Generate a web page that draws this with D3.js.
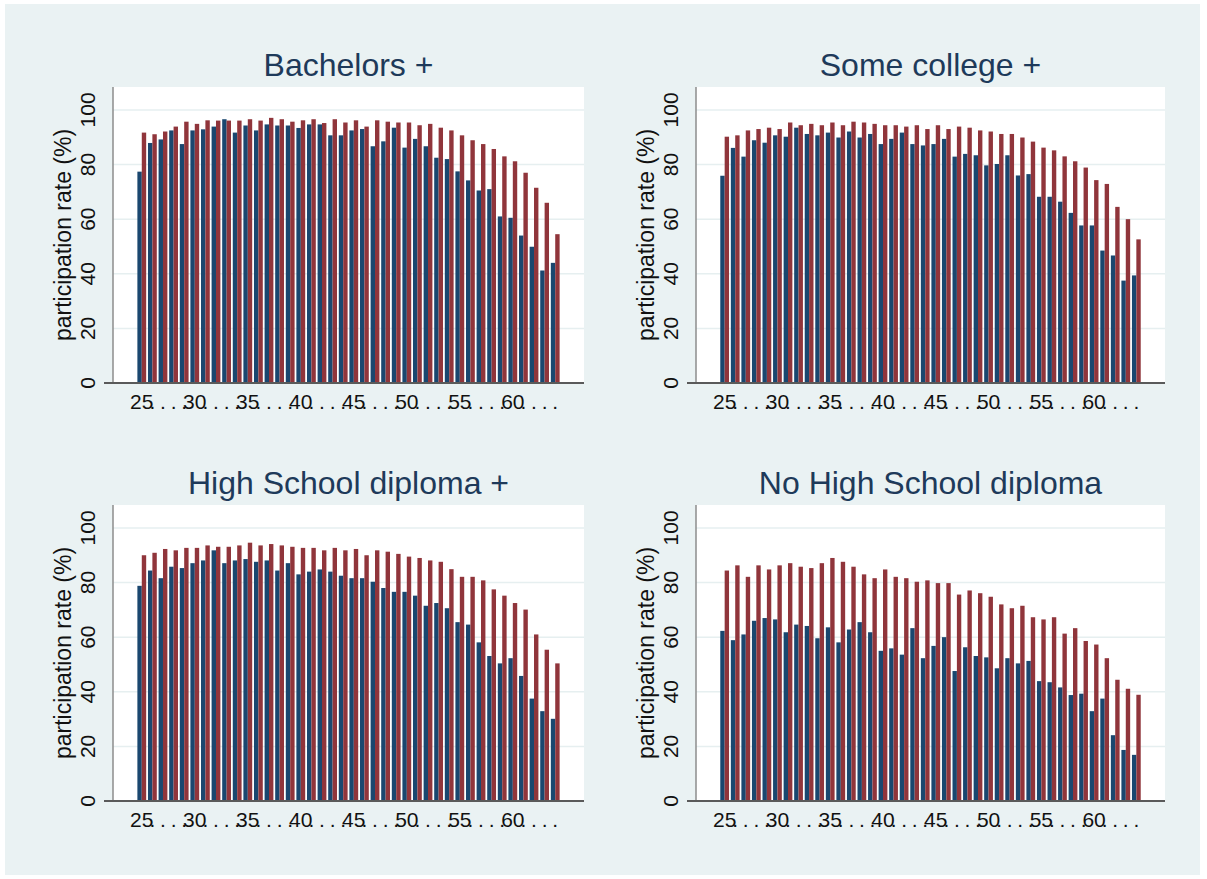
<!DOCTYPE html>
<html>
<head>
<meta charset="utf-8">
<script src="https://cdn.jsdelivr.net/npm/d3@7"></script>
<style>
  body { margin: 0; background: #fff; }
  text { font-family: "Liberation Sans", Arial, Helvetica, sans-serif; }
</style>
</head>
<body>
<div id="chart-area"></div>
<script>
const ages = d3.range(25, 65);
const yTicks = [0, 20, 40, 60, 80, 100];
const titles = ["Bachelors +", "Some college +", "High School diploma +", "No High School diploma"];

// navy series and maroon series, one value per age 25..64
const bachNavy = [77.4, 87.9, 89.2, 92.5, 87.5, 92.5, 92.9, 93.9, 96.6, 91.7,
  94.3, 92.5, 94.7, 94.3, 94.3, 93.4, 94.7, 94.7, 90.7, 90.7,
  92.5, 93.0, 86.7, 88.5, 93.5, 86.2, 89.4, 86.7, 82.5, 82.0,
  77.5, 74.2, 70.5, 71.0, 61.0, 60.5, 54.0, 49.9, 41.2, 44.0];
const bachRed = [91.7, 91.1, 92.1, 93.9, 95.7, 94.9, 96.2, 96.1, 96.1, 96.1,
  96.6, 96.1, 97.1, 96.6, 95.7, 96.2, 96.6, 95.2, 96.6, 95.4,
  96.2, 93.9, 96.2, 95.7, 95.4, 95.4, 94.4, 94.9, 93.5, 92.5,
  90.7, 88.9, 87.5, 85.7, 83.0, 81.2, 77.0, 71.5, 66.0, 54.5];

const someNavy = [75.9, 86.1, 82.9, 88.9, 88.0, 90.7, 90.2, 93.5, 91.2, 90.7,
  91.7, 89.9, 92.1, 89.9, 91.2, 87.5, 89.4, 91.7, 87.5, 87.0,
  87.5, 89.4, 82.9, 83.9, 83.4, 79.7, 80.2, 83.4, 76.0, 76.5,
  68.2, 68.2, 66.4, 62.3, 57.7, 57.7, 48.5, 46.7, 37.5, 39.4];
const someRed = [90.2, 90.7, 92.5, 93.0, 93.5, 93.0, 95.4, 94.4, 94.9, 94.4,
  95.4, 94.4, 95.7, 95.4, 94.9, 94.4, 94.4, 93.9, 94.4, 93.0,
  94.4, 93.0, 93.9, 93.5, 92.5, 92.1, 91.2, 91.2, 89.9, 88.4,
  86.2, 85.2, 83.0, 81.2, 78.9, 74.3, 72.9, 64.5, 60.0, 52.6];

const hsNavy = [78.8, 84.4, 81.6, 85.8, 85.3, 87.1, 88.1, 91.8, 87.1, 88.1,
  88.6, 87.6, 88.1, 84.4, 87.1, 83.0, 84.0, 84.8, 84.0, 82.5,
  81.6, 81.6, 80.3, 78.0, 76.6, 76.6, 75.2, 71.5, 72.5, 70.6,
  65.5, 64.6, 58.1, 53.1, 50.4, 52.3, 45.8, 37.5, 32.9, 30.1];
const hsRed = [90.0, 90.9, 92.3, 91.8, 92.7, 92.7, 93.6, 93.1, 93.1, 93.6,
  94.6, 93.6, 94.1, 93.6, 93.1, 92.7, 92.7, 91.8, 92.7, 91.8,
  92.3, 90.0, 91.8, 91.3, 90.5, 89.5, 89.0, 88.1, 87.6, 84.9,
  82.1, 82.1, 80.8, 77.5, 75.2, 72.5, 70.1, 61.0, 55.4, 50.4];

const nohsNavy = [62.3, 58.9, 61.0, 66.0, 67.0, 66.5, 61.8, 64.6, 64.1, 59.6,
  63.6, 58.1, 62.8, 65.5, 61.8, 55.0, 55.9, 53.6, 63.3, 52.3,
  56.8, 60.0, 47.6, 56.3, 53.1, 52.6, 48.6, 52.3, 50.4, 51.3,
  43.9, 43.5, 41.6, 38.8, 39.3, 32.9, 37.5, 24.1, 18.7, 16.9];
const nohsRed = [84.4, 86.3, 82.1, 86.3, 84.8, 86.3, 87.1, 85.8, 85.3, 87.1,
  89.0, 87.6, 85.8, 83.0, 81.6, 84.8, 82.1, 81.6, 80.3, 80.8,
  79.8, 79.8, 75.6, 77.1, 76.1, 74.8, 72.0, 70.6, 71.5, 67.3,
  66.5, 67.3, 61.3, 63.3, 58.6, 57.3, 52.3, 44.4, 41.1, 38.9];

const panelData = [
  [bachNavy, bachRed],
  [someNavy, someRed],
  [hsNavy, hsRed],
  [nohsNavy, nohsRed]
];

const W = 1207, H = 879;
const navy = "#1a476f", maroon = "#90353b";
const plots = [
  {x0: 113, x1: 584, y0: 87, y1: 383},
  {x0: 696, x1: 1165, y0: 87, y1: 383},
  {x0: 113, x1: 584, y0: 505, y1: 801},
  {x0: 696, x1: 1165, y0: 505, y1: 801}
];

let svg = d3.select('#chart-area')
  .append('svg')
  .attr('width', W)
  .attr('height', H);

svg.append('rect')
  .attr('x', 5).attr('y', 4)
  .attr('width', 1195).attr('height', 871)
  .attr('fill', '#eaf2f3');

plots.forEach((p, k) => {
  const g = svg.append('g');

  const x = d3.scaleBand()
    .domain(ages)
    .range([p.x0, p.x1])
    .paddingInner(0.17)
    .paddingOuter(2.3);
  const xs = d3.scaleBand()
    .domain([0, 1])
    .range([0, x.bandwidth()]);
  const y = d3.scaleLinear()
    .domain([0, 108.4])
    .range([p.y1, p.y0]);

  g.append('rect')
    .attr('x', p.x0).attr('y', p.y0)
    .attr('width', p.x1 - p.x0).attr('height', p.y1 - p.y0)
    .attr('fill', '#fff');

  // gridlines
  g.selectAll('line.grid')
    .data(yTicks.slice(1))
    .join('line')
    .attr('class', 'grid')
    .attr('x1', p.x0).attr('x2', p.x1)
    .attr('y1', d => y(d)).attr('y2', d => y(d))
    .attr('stroke', '#e6eff0')
    .attr('stroke-width', 1.5);

  const series = panelData[k];
  series.forEach((vals, s) => {
    g.selectAll(null)
      .data(ages)
      .join('rect')
      .attr('x', (a) => x(a) + xs(s))
      .attr('y', (a, i) => y(vals[i]))
      .attr('width', xs.bandwidth())
      .attr('height', (a, i) => y(0) - y(vals[i]))
      .attr('fill', s === 0 ? navy : maroon);
  });

  // y axis line
  g.append('line')
    .attr('x1', p.x0).attr('x2', p.x0)
    .attr('y1', p.y0).attr('y2', p.y1)
    .attr('stroke', '#8c8c8c')
    .attr('stroke-width', 1.5);
  // x axis line
  g.append('line')
    .attr('x1', p.x0 - 9).attr('x2', p.x1)
    .attr('y1', p.y1).attr('y2', p.y1)
    .attr('stroke', '#5a5a5a')
    .attr('stroke-width', 2);

  // y tick labels (rotated, Stata style)
  g.selectAll('text.ytick')
    .data(yTicks)
    .join('text')
    .attr('class', 'ytick')
    .attr('transform', d => `translate(${p.x0 - 18},${y(d)}) rotate(-90)`)
    .attr('text-anchor', 'middle')
    .attr('font-size', 21)
    .attr('fill', '#111')
    .text(d => d);

  g.append('text')
    .attr('transform', `translate(${p.x0 - 42},${(p.y0 + p.y1) / 2}) rotate(-90)`)
    .attr('text-anchor', 'middle')
    .attr('font-size', 23)
    .attr('fill', '#111')
    .text('participation rate (%)');

  // x labels: number every 5 years, dots in between
  g.selectAll('text.xtick')
    .data(ages)
    .join('text')
    .attr('class', 'xtick')
    .attr('x', a => x(a) + x.bandwidth() / 2)
    .attr('y', p.y1 + 26)
    .attr('text-anchor', 'middle')
    .attr('font-size', 21)
    .attr('fill', '#111')
    .text(a => a % 5 === 0 ? a : '.');

  g.append('text')
    .attr('x', (p.x0 + p.x1) / 2)
    .attr('y', p.y0 - 11)
    .attr('text-anchor', 'middle')
    .attr('font-size', 32)
    .attr('fill', '#1e3a5a')
    .text(titles[k]);
});
</script>
</body>
</html>
